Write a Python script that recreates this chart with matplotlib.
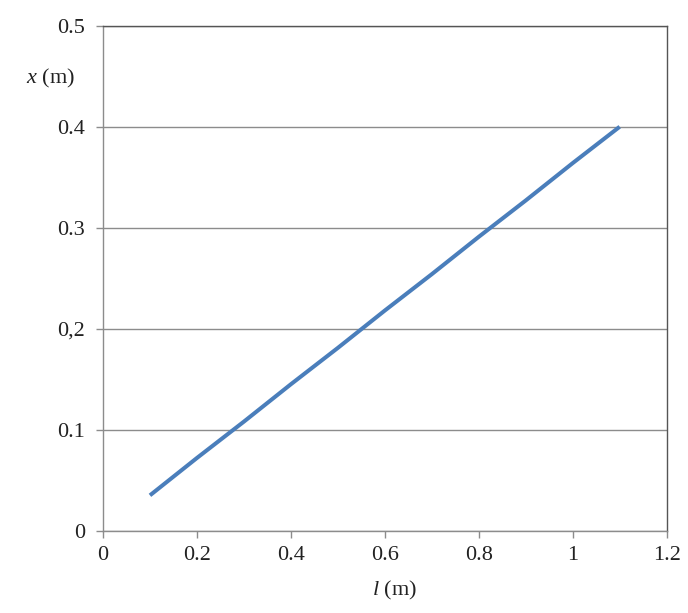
import numpy as np
import matplotlib.pyplot as plt

# data
l_vals = [0.1, 0.2, 0.3, 0.4, 0.5, 0.6, 0.7, 0.8, 0.9, 1.0, 1.1]
x_vals = [0.035, 0.072, 0.108, 0.145, 0.181, 0.218, 0.254, 0.291, 0.327, 0.364, 0.400]

x_ticks = [0, 0.2, 0.4, 0.6, 0.8, 1.0, 1.2]
x_tick_labels = ['0', '0.2', '0.4', '0.6', '0.8', '1', '1.2']
y_ticks = [0, 0.1, 0.2, 0.3, 0.4, 0.5]
y_tick_labels = ['0', '0.1', '0,2', '0.3', '0.4', '0.5']

plt.rcParams['font.family'] = ['Liberation Serif', 'DejaVu Serif']
plt.rcParams['mathtext.fontset'] = 'custom'
plt.rcParams['mathtext.it'] = 'Liberation Serif:italic'

fig = plt.figure(figsize=(6.88, 6.13), dpi=100)
ax = fig.add_axes([0.1497, 0.1343, 0.8193, 0.8237])

grid_c = '#8c8c8c'
ax.plot(l_vals, x_vals, color='#4a7ebb', linewidth=2.9, solid_capstyle='butt', zorder=3)

ax.set_xlim(0, 1.2)
ax.set_ylim(0, 0.5)
ax.set_xticks(x_ticks)
ax.set_xticklabels(x_tick_labels)
ax.set_yticks(y_ticks)
ax.set_yticklabels(y_tick_labels)
ax.yaxis.grid(True, color=grid_c, linewidth=1.0)
ax.set_axisbelow(True)

ax.tick_params(axis='both', direction='out', length=5, width=1, color=grid_c,
               labelsize=16, labelcolor='#222222')
ax.tick_params(axis='y', pad=8)
ax.tick_params(axis='x', pad=6)
for side in ['left', 'bottom']:
    ax.spines[side].set_color(grid_c)
for side in ['top', 'right']:
    ax.spines[side].set_color('#555555')
for s in ax.spines.values():
    s.set_linewidth(1.0)

fig.text(0.073, 0.872, r'$\mathit{x}$ (m)', fontsize=16, ha='center', va='center', color='#222222')
fig.text(0.574, 0.036, r'$\mathit{l}$ (m)', fontsize=16, ha='center', va='center', color='#222222')

fig.savefig('out.png', dpi=100)
